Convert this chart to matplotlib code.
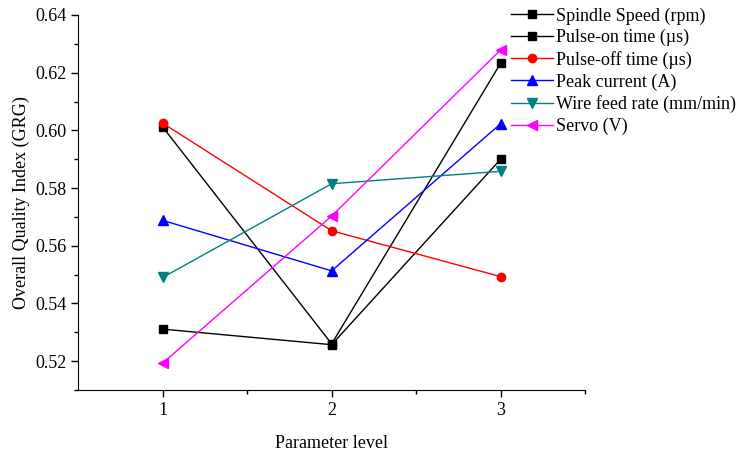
import matplotlib.pyplot as plt
import numpy as np

plt.rcParams['font.family'] = ['Liberation Serif', 'DejaVu Serif']

levels = [1, 2, 3]
spindle = [0.5311, 0.5257, 0.5900]
pulse_on = [0.6012, 0.5260, 0.6233]
pulse_off = [0.6025, 0.5652, 0.5493]
peak = [0.5688, 0.5513, 0.6023]
wire = [0.5490, 0.5815, 0.5858]
servo = [0.5193, 0.5703, 0.6279]

fig = plt.figure(figsize=(7.37, 4.54), dpi=100)
ax = fig.add_axes([0.106, 0.141, 0.688, 0.826])

ms = 6
ax.plot(levels, spindle, color='black', marker='s', ms=ms, lw=1, label='Spindle Speed (rpm)')
ax.plot(levels, pulse_on, color='black', marker='s', ms=ms, lw=1, label='Pulse-on time (\u00b5s)')
ax.plot(levels, pulse_off, color='red', marker='o', ms=ms, lw=1, label='Pulse-off time (\u00b5s)')
ax.plot(levels, peak, color='blue', marker='^', ms=ms + 1, lw=1, label='Peak current (A)')
ax.plot(levels, wire, color='#008080', marker='v', ms=ms + 1, lw=1, label='Wire feed rate (mm/min)')
ax.plot(levels, servo, color='magenta', marker='<', ms=ms + 1, lw=1, label='Servo (V)')

ax.set_xlim(0.5, 3.5)
ax.set_ylim(0.51, 0.64)
ax.set_xticks(levels)
ax.set_xticks([1.5, 2.5, 3.5], minor=True)
ax.set_yticks(np.arange(0.52, 0.641, 0.02))
ax.set_yticks(np.arange(0.51, 0.64, 0.02), minor=True)
ax.yaxis.set_major_formatter(plt.FormatStrFormatter('%.2f'))

for s in ['top', 'right']:
    ax.spines[s].set_visible(False)
ax.tick_params(which='both', direction='out', labelsize=13, width=1)
ax.tick_params(which='major', length=5)
ax.tick_params(which='minor', length=3)

ax.set_xlabel('Parameter level', fontsize=13, labelpad=12)
ax.set_ylabel('Overall Quality Index (GRG)', fontsize=13, labelpad=4)

ax.legend(loc='upper left', bbox_to_anchor=(0.84, 1.04), frameon=False, fontsize=13,
          handlelength=2.3, handletextpad=0.2, labelspacing=0.25, borderaxespad=0)

fig.savefig('out.png', dpi=100)
